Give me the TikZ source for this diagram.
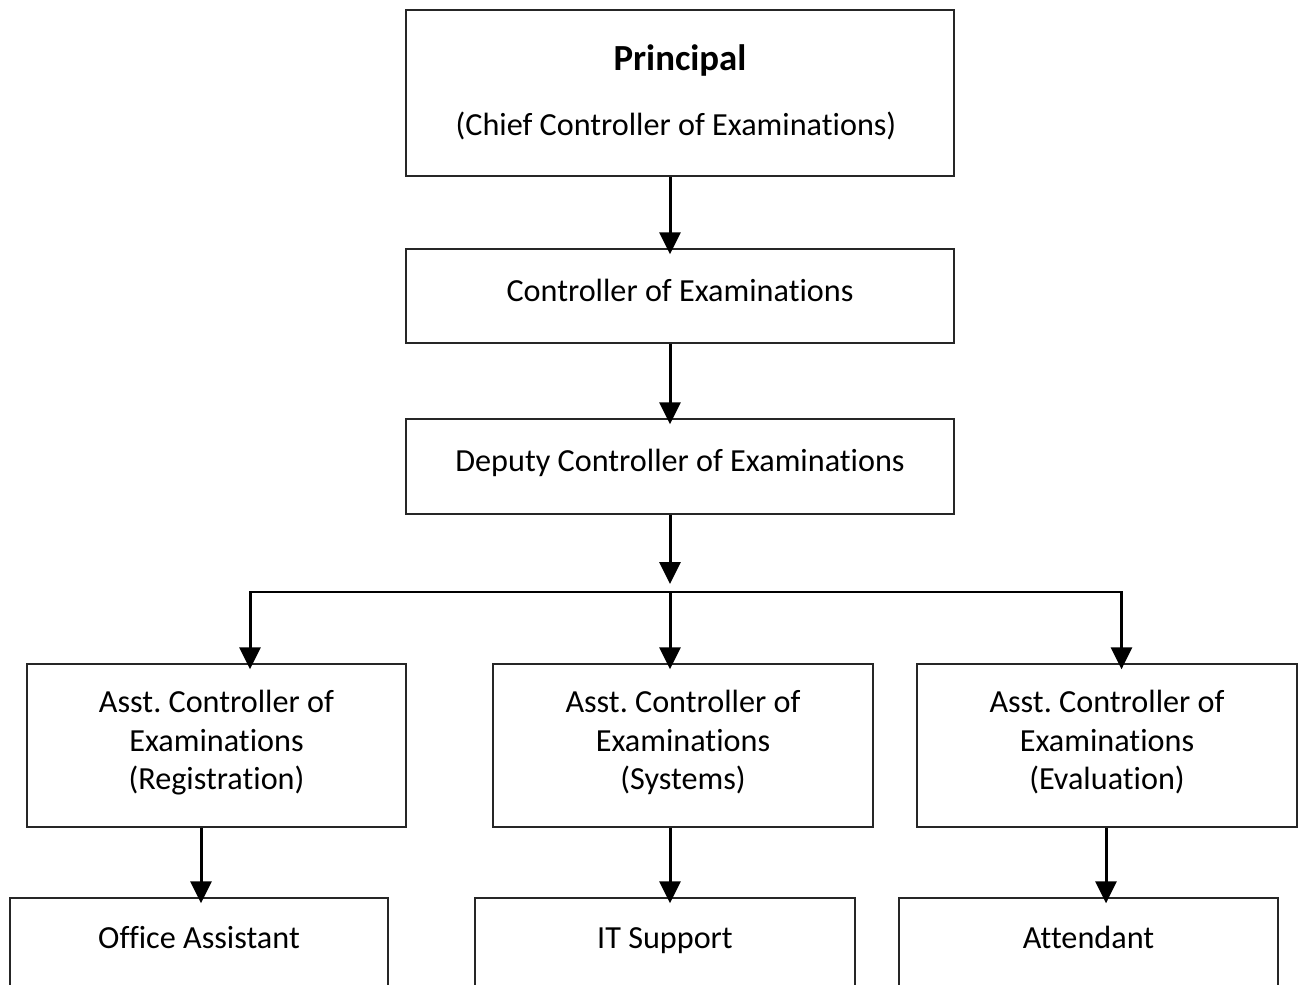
\documentclass[tikz,border=0pt]{standalone}
\usepackage{fontspec}
\setmainfont{Carlito}[Ligatures=NoCommon]
\usetikzlibrary{arrows.meta}
\frenchspacing

% stacked lines, baseline on the first one
\newcommand{\stacklines}[1]{\begin{tabular}[t]{@{}c@{}}#1\end{tabular}}

\begin{document}
\begin{tikzpicture}[x=1pt,y=-1pt,
  box/.style={draw=black!85, line width=1.3pt, fill=white, inner sep=0pt,
              minimum width=#1},
  txt/.style={anchor=base, inner sep=0pt,
              font=\fontsize{32.2}{38.5}\selectfont},
  ttl/.style={anchor=base, inner sep=0pt,
              font=\fontsize{36.8}{44}\selectfont\bfseries},
  head/.tip={Triangle[length=22pt,width=21pt]},
  arr/.style={line width=3pt, -head, shorten >=-6pt},
  link/.style={line width=2.6pt, line cap=rect}]

\useasboundingbox (0,0) rectangle (1302,985);
\clip (0,0) rectangle (1302,985);

% --- boxes ---
\node[box=548, minimum height=166] (princ) at (680,93) {};
\node[box=548, minimum height=94]  (ctrl)  at (680,296) {};
\node[box=548, minimum height=95]  (dep)   at (680,466.5) {};

\node[box=379, minimum height=163] (reg)  at (216.5,745.5) {};
\node[box=380, minimum height=163] (sys)  at (683,745.5) {};
\node[box=380, minimum height=163] (eval) at (1107,745.5) {};

\node[box=378, minimum height=140] (off) at (199,968) {};
\node[box=380, minimum height=140] (its) at (665,968) {};
\node[box=379, minimum height=140] (att) at (1088.5,968) {};

% --- texts ---
\node[ttl] (princ-a) at (680,70)  {Principal};
\node[txt] (princ-b) at (676,135) {(Chief Controller of Examinations)};
\node[txt] (ctrl-t)  at (680,301) {Controller of Examinations};
\node[txt] (dep-t)   at (680,471) {Deputy Controller of Examinations};

\node[txt] (reg-t)  at (216.5,712.5) {\stacklines{Asst. Controller of\\Examinations\\(Registration)}};
\node[txt] (sys-t)  at (683,712.5)   {\stacklines{Asst. Controller of\\Examinations\\(Systems)}};
\node[txt] (eval-t) at (1107,712.5)  {\stacklines{Asst. Controller of\\Examinations\\(Evaluation)}};

\node[txt] (off-t) at (199,948.5)    {Office Assistant};
\node[txt] (its-t) at (665,948.5)    {IT Support};
\node[txt] (att-t) at (1088.5,948.5) {Attendant};

% --- connectors ---
\coordinate (spine) at (670,592);
\coordinate (hl) at (250,592);
\coordinate (hr) at (1121.5,592);
\coordinate (b1) at (201,0);
\coordinate (b3) at (1106,0);

\draw[arr] (princ.south -| spine) -- (ctrl.north -| spine);
\draw[arr] (ctrl.south -| spine) -- (dep.north -| spine);
\draw[arr, shorten >=8pt] (dep.south -| spine) -- (spine);

\draw[link] (hl) -- (hr);
\draw[arr] (hl) -- (reg.north -| hl);
\draw[arr] (spine) -- (sys.north -| spine);
\draw[arr] (hr) -- (eval.north -| hr);

\draw[arr] (reg.south -| b1) -- (off.north -| b1);
\draw[arr] (sys.south -| spine) -- (its.north -| spine);
\draw[arr] (eval.south -| b3) -- (att.north -| b3);
\end{tikzpicture}
\end{document}
